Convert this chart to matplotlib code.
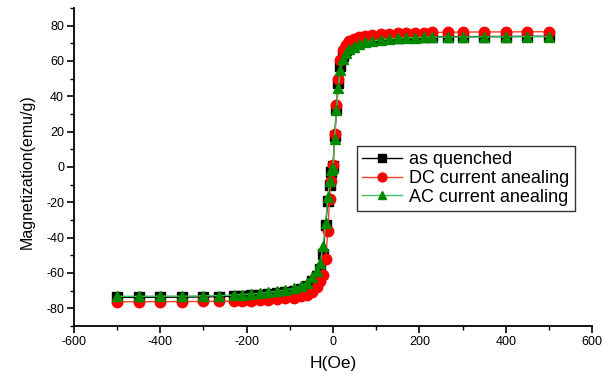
import matplotlib
matplotlib.use("Agg")
import matplotlib.pyplot as plt
from matplotlib.ticker import MultipleLocator

plt.rcParams['font.family'] = ['Liberation Sans', 'DejaVu Sans']
plt.rcParams['axes.unicode_minus'] = False

H = [-500, -450, -400, -350, -300, -265, -230, -210, -190, -170, -150, -130,
     -110, -90, -75, -60, -48, -38, -30, -23, -17, -12, -8, -4, 0,
     4, 8, 12, 17, 23, 30, 38, 48, 60, 75, 90, 110, 130, 150, 170, 190,
     210, 230, 265, 300, 350, 400, 450, 500]

M_quenched = [-73.8, -73.8, -73.7, -73.7, -73.5, -73.4, -73.2, -73.0, -72.7,
              -72.4, -72.0, -71.5, -70.8, -70.0, -69.0, -67.2, -64.8, -61.5,
              -57.5, -49.0, -33.0, -19.0, -10.0, -3.0, 0.5,
              17.5, 33.0, 47.5, 57.0, 63.0, 66.0, 68.0, 69.5, 70.5, 71.3,
              72.0, 72.5, 72.9, 73.1, 73.3, 73.4, 73.5, 73.6, 73.7, 73.7,
              73.8, 73.8, 73.9, 73.9]

M_dc = [-76.3, -76.3, -76.2, -76.2, -76.1, -76.0, -75.9, -75.8, -75.6, -75.4,
        -75.1, -74.8, -74.4, -73.9, -73.3, -72.3, -70.6, -68.2, -64.5, -61.0,
        -52.0, -36.5, -18.0, -8.0, 1.0,
        18.5, 35.0, 50.0, 60.5, 66.0, 69.0, 71.0, 72.5, 73.5, 74.3, 74.8,
        75.2, 75.5, 75.7, 75.8, 75.9, 76.0, 76.1, 76.2, 76.3, 76.4, 76.4,
        76.5, 76.5]

M_ac = [-73.2, -73.2, -73.1, -73.1, -73.0, -72.8, -72.5, -72.2, -71.9, -71.5,
        -71.0, -70.4, -69.6, -68.6, -67.4, -65.5, -62.5, -59.0, -54.5, -45.0,
        -31.5, -17.0, -8.0, -2.0, -0.5,
        16.0, 32.0, 44.5, 55.0, 61.0, 64.5, 66.5, 68.0, 69.5, 70.5, 71.3,
        72.0, 72.5, 72.8, 73.0, 73.2, 73.3, 73.4, 73.5, 73.5, 73.6, 73.6,
        73.7, 73.7]

labels = ['as quenched', 'DC current anealing', 'AC current anealing']

fig = plt.figure(figsize=(6.15, 3.76), dpi=100)
ax = fig.add_axes([0.120, 0.133, 0.843, 0.846])

ax.plot(H, M_quenched, color='black', lw=1.0, marker='s', ms=6.5,
        mfc='black', mec='black', label=labels[0], zorder=3)
ax.plot(H, M_dc, color='#ff4020', lw=1.0, marker='o', ms=7.5,
        mfc='#ff0000', mec='#ff0000', label=labels[1], zorder=4)
ax.plot(H, M_ac, color='#40c060', lw=1.0, marker='^', ms=7.5,
        mfc='#008a00', mec='#008a00', label=labels[2], zorder=5)

ax.set_xlim(-600, 600)
ax.set_ylim(-90, 90)
ax.xaxis.set_major_locator(MultipleLocator(200))
ax.xaxis.set_minor_locator(MultipleLocator(100))
ax.yaxis.set_major_locator(MultipleLocator(20))
ax.yaxis.set_minor_locator(MultipleLocator(10))

for s in ['top', 'right']:
    ax.spines[s].set_visible(False)
for s in ['left', 'bottom']:
    ax.spines[s].set_linewidth(1.3)

ax.tick_params(which='major', direction='out', length=5, width=1.2,
               labelsize=9, pad=2)
ax.tick_params(which='minor', direction='out', length=3, width=1.0)

ax.set_xlabel('H(Oe)', fontsize=12.5, labelpad=6)
ax.set_ylabel('Magnetization(emu/g)', fontsize=11.5)
ax.yaxis.set_label_coords(-0.075, 0.484)

leg = ax.legend(loc='upper left', bbox_to_anchor=(0.528, 0.595),
                fontsize=13, frameon=True, fancybox=False,
                edgecolor='black', handlelength=2.2, handletextpad=0.4,
                labelspacing=0.1, borderpad=0.3, markerscale=0.85)
leg.get_frame().set_linewidth(1.0)

fig.savefig('out.png', dpi=100)
